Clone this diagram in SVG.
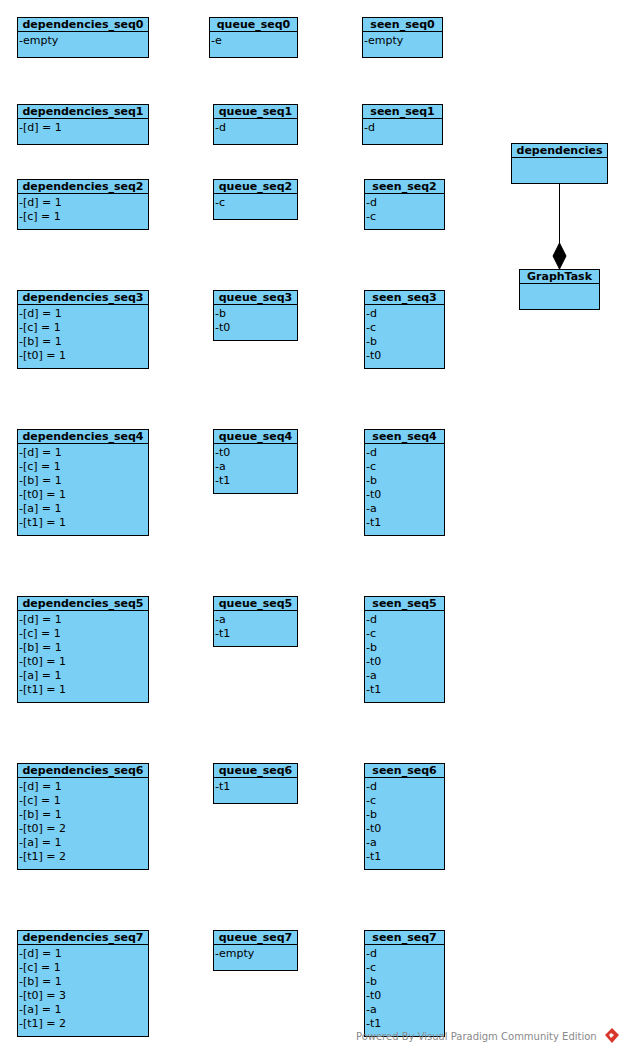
<svg xmlns="http://www.w3.org/2000/svg" width="624" height="1053" viewBox="0 0 624 1053">
<style>
.box{fill:#7acff5;stroke:#000;stroke-width:1}
.div{stroke:#000;stroke-width:1}
.h{font-family:"DejaVu Sans",sans-serif;font-size:11px;font-weight:bold;fill:#000;text-anchor:middle}
.t{font-family:"DejaVu Sans",sans-serif;font-size:11px;fill:#000}
.wm{font-family:"DejaVu Sans",sans-serif;font-size:10px;fill:#8a8a8a}
</style>
<rect width="624" height="1053" fill="#fff"/>
<!-- seq0 -->
<g id="dependencies_seq0"><rect class="box" x="17.5" y="17.5" width="131" height="40"/><line class="div" x1="17.5" y1="31.5" x2="148.5" y2="31.5"/><text class="h" x="83" y="28">dependencies_seq0</text><text class="t" x="19" y="44">-empty</text></g>
<g id="queue_seq0"><rect class="box" x="209.5" y="17.5" width="88" height="40"/><line class="div" x1="209.5" y1="31.5" x2="297.5" y2="31.5"/><text class="h" x="253.5" y="28">queue_seq0</text><text class="t" x="211" y="44">-e</text></g>
<g id="seen_seq0"><rect class="box" x="362.5" y="17.5" width="80" height="40"/><line class="div" x1="362.5" y1="31.5" x2="442.5" y2="31.5"/><text class="h" x="402.5" y="28">seen_seq0</text><text class="t" x="364" y="44">-empty</text></g>
<!-- seq1 -->
<g id="dependencies_seq1"><rect class="box" x="17.5" y="104.5" width="131" height="40"/><line class="div" x1="17.5" y1="118.5" x2="148.5" y2="118.5"/><text class="h" x="83" y="115">dependencies_seq1</text><text class="t" x="19" y="131">-[d] = 1</text></g>
<g id="queue_seq1"><rect class="box" x="213.5" y="104.5" width="84" height="40"/><line class="div" x1="213.5" y1="118.5" x2="297.5" y2="118.5"/><text class="h" x="255.5" y="115">queue_seq1</text><text class="t" x="215" y="131">-d</text></g>
<g id="seen_seq1"><rect class="box" x="362.5" y="104.5" width="80" height="40"/><line class="div" x1="362.5" y1="118.5" x2="442.5" y2="118.5"/><text class="h" x="402.5" y="115">seen_seq1</text><text class="t" x="364" y="131">-d</text></g>
<!-- seq2 -->
<g id="dependencies_seq2"><rect class="box" x="17.5" y="179.5" width="131" height="50"/><line class="div" x1="17.5" y1="193.5" x2="148.5" y2="193.5"/><text class="h" x="83" y="190">dependencies_seq2</text><text class="t" x="19" y="206">-[d] = 1</text><text class="t" x="19" y="220">-[c] = 1</text></g>
<g id="queue_seq2"><rect class="box" x="213.5" y="179.5" width="84" height="40"/><line class="div" x1="213.5" y1="193.5" x2="297.5" y2="193.5"/><text class="h" x="255.5" y="190">queue_seq2</text><text class="t" x="215" y="206">-c</text></g>
<g id="seen_seq2"><rect class="box" x="364.5" y="179.5" width="80" height="50"/><line class="div" x1="364.5" y1="193.5" x2="444.5" y2="193.5"/><text class="h" x="404.5" y="190">seen_seq2</text><text class="t" x="366" y="206">-d</text><text class="t" x="366" y="220">-c</text></g>
<!-- dependencies / GraphTask -->
<g id="dependencies"><rect class="box" x="511.5" y="143.5" width="96" height="40"/><line class="div" x1="511.5" y1="157.5" x2="607.5" y2="157.5"/><text class="h" x="559.5" y="154">dependencies</text></g>
<g id="GraphTask"><rect class="box" x="519.5" y="269.5" width="80" height="40"/><line class="div" x1="519.5" y1="283.5" x2="599.5" y2="283.5"/><text class="h" x="559.5" y="280">GraphTask</text></g>
<g id="connectors"><line x1="559.5" y1="183.5" x2="559.5" y2="244" stroke="#000" stroke-width="1"/><polygon points="559.5,243 566,256 559.5,269 553,256" fill="#000" stroke="#000" stroke-width="1"/></g>
<!-- seq3 -->
<g id="dependencies_seq3"><rect class="box" x="17.5" y="290.5" width="131" height="78"/><line class="div" x1="17.5" y1="304.5" x2="148.5" y2="304.5"/><text class="h" x="83" y="301">dependencies_seq3</text><text class="t" x="19" y="317">-[d] = 1</text><text class="t" x="19" y="331">-[c] = 1</text><text class="t" x="19" y="345">-[b] = 1</text><text class="t" x="19" y="359">-[t0] = 1</text></g>
<g id="queue_seq3"><rect class="box" x="213.5" y="290.5" width="84" height="50"/><line class="div" x1="213.5" y1="304.5" x2="297.5" y2="304.5"/><text class="h" x="255.5" y="301">queue_seq3</text><text class="t" x="215" y="317">-b</text><text class="t" x="215" y="331">-t0</text></g>
<g id="seen_seq3"><rect class="box" x="364.5" y="290.5" width="80" height="78"/><line class="div" x1="364.5" y1="304.5" x2="444.5" y2="304.5"/><text class="h" x="404.5" y="301">seen_seq3</text><text class="t" x="366" y="317">-d</text><text class="t" x="366" y="331">-c</text><text class="t" x="366" y="345">-b</text><text class="t" x="366" y="359">-t0</text></g>
<!-- seq4 -->
<g id="dependencies_seq4"><rect class="box" x="17.5" y="429.5" width="131" height="106"/><line class="div" x1="17.5" y1="443.5" x2="148.5" y2="443.5"/><text class="h" x="83" y="440">dependencies_seq4</text><text class="t" x="19" y="456">-[d] = 1</text><text class="t" x="19" y="470">-[c] = 1</text><text class="t" x="19" y="484">-[b] = 1</text><text class="t" x="19" y="498">-[t0] = 1</text><text class="t" x="19" y="512">-[a] = 1</text><text class="t" x="19" y="526">-[t1] = 1</text></g>
<g id="queue_seq4"><rect class="box" x="213.5" y="429.5" width="84" height="64"/><line class="div" x1="213.5" y1="443.5" x2="297.5" y2="443.5"/><text class="h" x="255.5" y="440">queue_seq4</text><text class="t" x="215" y="456">-t0</text><text class="t" x="215" y="470">-a</text><text class="t" x="215" y="484">-t1</text></g>
<g id="seen_seq4"><rect class="box" x="364.5" y="429.5" width="80" height="106"/><line class="div" x1="364.5" y1="443.5" x2="444.5" y2="443.5"/><text class="h" x="404.5" y="440">seen_seq4</text><text class="t" x="366" y="456">-d</text><text class="t" x="366" y="470">-c</text><text class="t" x="366" y="484">-b</text><text class="t" x="366" y="498">-t0</text><text class="t" x="366" y="512">-a</text><text class="t" x="366" y="526">-t1</text></g>
<!-- seq5 -->
<g id="dependencies_seq5"><rect class="box" x="17.5" y="596.5" width="131" height="106"/><line class="div" x1="17.5" y1="610.5" x2="148.5" y2="610.5"/><text class="h" x="83" y="607">dependencies_seq5</text><text class="t" x="19" y="623">-[d] = 1</text><text class="t" x="19" y="637">-[c] = 1</text><text class="t" x="19" y="651">-[b] = 1</text><text class="t" x="19" y="665">-[t0] = 1</text><text class="t" x="19" y="679">-[a] = 1</text><text class="t" x="19" y="693">-[t1] = 1</text></g>
<g id="queue_seq5"><rect class="box" x="213.5" y="596.5" width="84" height="50"/><line class="div" x1="213.5" y1="610.5" x2="297.5" y2="610.5"/><text class="h" x="255.5" y="607">queue_seq5</text><text class="t" x="215" y="623">-a</text><text class="t" x="215" y="637">-t1</text></g>
<g id="seen_seq5"><rect class="box" x="364.5" y="596.5" width="80" height="106"/><line class="div" x1="364.5" y1="610.5" x2="444.5" y2="610.5"/><text class="h" x="404.5" y="607">seen_seq5</text><text class="t" x="366" y="623">-d</text><text class="t" x="366" y="637">-c</text><text class="t" x="366" y="651">-b</text><text class="t" x="366" y="665">-t0</text><text class="t" x="366" y="679">-a</text><text class="t" x="366" y="693">-t1</text></g>
<!-- seq6 -->
<g id="dependencies_seq6"><rect class="box" x="17.5" y="763.5" width="131" height="106"/><line class="div" x1="17.5" y1="777.5" x2="148.5" y2="777.5"/><text class="h" x="83" y="774">dependencies_seq6</text><text class="t" x="19" y="790">-[d] = 1</text><text class="t" x="19" y="804">-[c] = 1</text><text class="t" x="19" y="818">-[b] = 1</text><text class="t" x="19" y="832">-[t0] = 2</text><text class="t" x="19" y="846">-[a] = 1</text><text class="t" x="19" y="860">-[t1] = 2</text></g>
<g id="queue_seq6"><rect class="box" x="213.5" y="763.5" width="84" height="40"/><line class="div" x1="213.5" y1="777.5" x2="297.5" y2="777.5"/><text class="h" x="255.5" y="774">queue_seq6</text><text class="t" x="215" y="790">-t1</text></g>
<g id="seen_seq6"><rect class="box" x="364.5" y="763.5" width="80" height="106"/><line class="div" x1="364.5" y1="777.5" x2="444.5" y2="777.5"/><text class="h" x="404.5" y="774">seen_seq6</text><text class="t" x="366" y="790">-d</text><text class="t" x="366" y="804">-c</text><text class="t" x="366" y="818">-b</text><text class="t" x="366" y="832">-t0</text><text class="t" x="366" y="846">-a</text><text class="t" x="366" y="860">-t1</text></g>
<!-- seq7 -->
<g id="dependencies_seq7"><rect class="box" x="17.5" y="930.5" width="131" height="106"/><line class="div" x1="17.5" y1="944.5" x2="148.5" y2="944.5"/><text class="h" x="83" y="941">dependencies_seq7</text><text class="t" x="19" y="957">-[d] = 1</text><text class="t" x="19" y="971">-[c] = 1</text><text class="t" x="19" y="985">-[b] = 1</text><text class="t" x="19" y="999">-[t0] = 3</text><text class="t" x="19" y="1013">-[a] = 1</text><text class="t" x="19" y="1027">-[t1] = 2</text></g>
<g id="queue_seq7"><rect class="box" x="213.5" y="930.5" width="84" height="40"/><line class="div" x1="213.5" y1="944.5" x2="297.5" y2="944.5"/><text class="h" x="255.5" y="941">queue_seq7</text><text class="t" x="215" y="957">-empty</text></g>
<g id="seen_seq7"><rect class="box" x="364.5" y="930.5" width="80" height="106"/><line class="div" x1="364.5" y1="944.5" x2="444.5" y2="944.5"/><text class="h" x="404.5" y="941">seen_seq7</text><text class="t" x="366" y="957">-d</text><text class="t" x="366" y="971">-c</text><text class="t" x="366" y="985">-b</text><text class="t" x="366" y="999">-t0</text><text class="t" x="366" y="1013">-a</text><text class="t" x="366" y="1027">-t1</text></g>
<!-- watermark -->
<g id="watermark"><text class="wm" x="356" y="1040">Powered By Visual Paradigm Community Edition</text><polygon points="612,1028 619,1035 612,1043 605,1035" fill="#d9372b"/><polygon points="611,1033 614,1035 611,1038 609,1035" fill="#fff"/></g>
</svg>
